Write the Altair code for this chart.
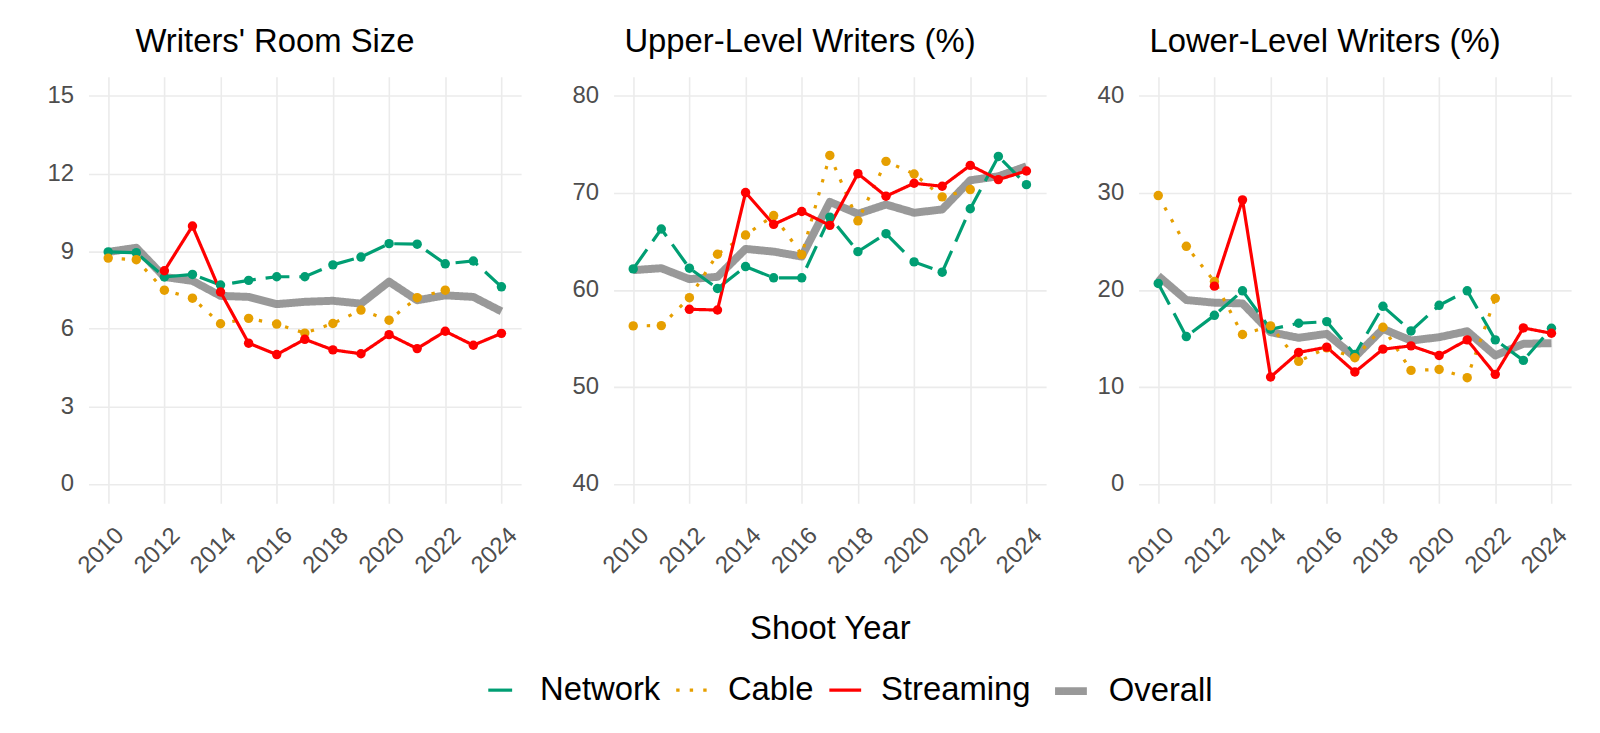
import pandas as pd
import altair as alt

FONT = "Liberation Sans"

years = list(range(2010, 2025))

# writers' room size
room_network = [8.97, 8.94, 8.0, 8.1, 7.69, 7.87, 8.01, 8.01, 8.47, 8.77, 9.29, 9.27, 8.51, 8.62, 7.62]
room_cable = [8.73, 8.67, 7.49, 7.18, 6.19, 6.4, 6.18, 5.83, 6.2, 6.72, 6.33, 7.2, 7.49, None, None]
room_streaming = [None, None, 8.24, 9.97, 7.42, 5.44, 5.0, 5.59, 5.18, 5.03, 5.77, 5.23, 5.9, 5.36, 5.82]
room_overall = [8.97, 9.13, 8.0, 7.85, 7.27, 7.23, 6.95, 7.04, 7.08, 6.97, 7.82, 7.1, 7.29, 7.23, 6.67]

# upper-level writers (%)
upper_network = [62.17, 66.28, 62.24, 60.15, 62.41, 61.25, 61.25, 67.51, 63.95, 65.8, 62.89, 61.83, 68.37, 73.77, 70.86]
upper_cable = [56.29, 56.32, 59.2, 63.68, 65.66, 67.68, 63.64, 73.87, 67.13, 73.26, 71.96, 69.6, 70.35, None, None]
upper_streaming = [None, None, 58.0, 57.93, 70.04, 66.76, 68.09, 66.66, 71.99, 69.67, 71.0, 70.69, 72.85, 71.38, 72.27]
upper_overall = [62.04, 62.24, 61.11, 61.35, 64.23, 63.95, 63.44, 69.08, 67.85, 68.81, 67.96, 68.3, 71.31, 71.72, 72.75]

# lower-level writers (%)
lower_network = [20.67, 15.19, 17.38, 19.91, 15.94, 16.56, 16.73, 13.34, 18.31, 15.77, 18.41, 19.91, 14.85, 12.73, 16.05]
lower_cable = [29.73, 24.5, 20.87, 15.4, 16.29, 12.63, 14.03, 13.0, 16.15, 11.7, 11.8, 10.95, 19.13, None, None]
lower_streaming = [None, None, 20.39, 29.29, 11.02, 13.55, 14.1, 11.53, 13.89, 14.23, 13.24, 14.85, 11.29, 16.08, 15.53]
lower_overall = [21.45, 18.96, 18.68, 18.61, 15.64, 15.06, 15.47, 13.07, 15.98, 14.78, 15.12, 15.74, 13.24, 14.44, 14.51]

series_names = ["Network", "Cable", "Streaming", "Overall"]
series_colors = ["#009E73", "#E69F00", "#FF0000", "#808080"]
series_dash = [[24, 10], [3.4, 10.2], [1, 0], [1, 0]]
series_width = [3.2, 3.2, 3.2, 8]
series_opacity = [1, 1, 1, 0.8]


def long_table(cols):
    rows = []
    for name, vals in zip(series_names, cols):
        for yr, v in zip(years, vals):
            if v is not None:
                rows.append({"series": name, "year": yr, "value": v})
    return pd.DataFrame(rows)


legend = alt.Legend(title=None, orient="none", legendX=400, legendY=598,
                    direction="horizontal", symbolType="stroke", symbolSize=1024,
                    labelFont=FONT, labelFontSize=33, labelColor="black",
                    labelOffset=18, columnPadding=8, labelLimit=0)

color = alt.Color("series:N", scale=alt.Scale(domain=series_names, range=series_colors), legend=legend)
dash = alt.StrokeDash("series:N", scale=alt.Scale(domain=series_names, range=series_dash), legend=legend)
width = alt.StrokeWidth("series:N", scale=alt.Scale(type="ordinal", domain=series_names, range=series_width),
                        legend=legend)
opac = alt.Opacity("series:N", scale=alt.Scale(type="ordinal", domain=series_names, range=series_opacity),
                   legend=legend)


def panel(cols, title, domain, ticks, xtitle):
    df = long_table(cols)
    base = alt.Chart(df)
    x = alt.X("year:Q", title=xtitle,
              scale=alt.Scale(domain=[2009.3, 2024.7], nice=False, zero=False),
              axis=alt.Axis(values=list(range(2010, 2025, 2)), format="d", labelAngle=315,
                            labelAlign="right", labelBaseline="top", labelPadding=20,
                            labelOffset=3, titleY=110))
    y = alt.Y("value:Q", title=None,
              scale=alt.Scale(domain=domain, nice=False, zero=False),
              axis=alt.Axis(values=ticks, labelPadding=15))
    overall = base.transform_filter(alt.datum.series == "Overall").mark_line(
        strokeCap="butt", strokeJoin="round").encode(
        x=x, y=y, color=color, strokeDash=dash, strokeWidth=width, opacity=opac)
    lines = base.transform_filter(alt.datum.series != "Overall").mark_line(
        strokeCap="butt").encode(
        x=x, y=y, color=color, strokeDash=dash, strokeWidth=width, opacity=opac)
    points = base.transform_filter(alt.datum.series != "Overall").mark_point(
        filled=True, size=90, opacity=1).encode(
        x=x, y=y,
        color=alt.Color("series:N", scale=alt.Scale(domain=series_names, range=series_colors), legend=None))
    return alt.layer(overall, lines, points).properties(
        width=435, height=429,
        title=alt.TitleParams(title, font=FONT, fontSize=33, fontWeight="normal", color="black",
                              anchor="middle", frame="group", dx=-30, offset=-8, baseline="alphabetic"))


p1 = panel([room_network, room_cable, room_streaming, room_overall],
           "Writers' Room Size", [-0.75, 15.75], [0, 3, 6, 9, 12, 15], None)
p2 = panel([upper_network, upper_cable, upper_streaming, upper_overall],
           "Upper-Level Writers (%)", [38, 82], [40, 50, 60, 70, 80], "Shoot Year")
p3 = panel([lower_network, lower_cable, lower_streaming, lower_overall],
           "Lower-Level Writers (%)", [-2, 42], [0, 10, 20, 30, 40], None)

chart = alt.hconcat(p1, p2, p3, spacing=49).properties(
    padding={"left": 38, "top": 15, "right": 20, "bottom": 10}
).configure_view(stroke="transparent").configure_axis(
    grid=True, gridColor="#EBEBEB", gridWidth=1.6, domain=False, ticks=False, tickSize=0,
    labelFont=FONT, labelFontSize=24, labelColor="#4D4D4D",
    titleFont=FONT, titleFontSize=33, titleColor="black", titleFontWeight="normal"
)

chart.save("out.html", embed_options={"renderer": "svg", "actions": False})
